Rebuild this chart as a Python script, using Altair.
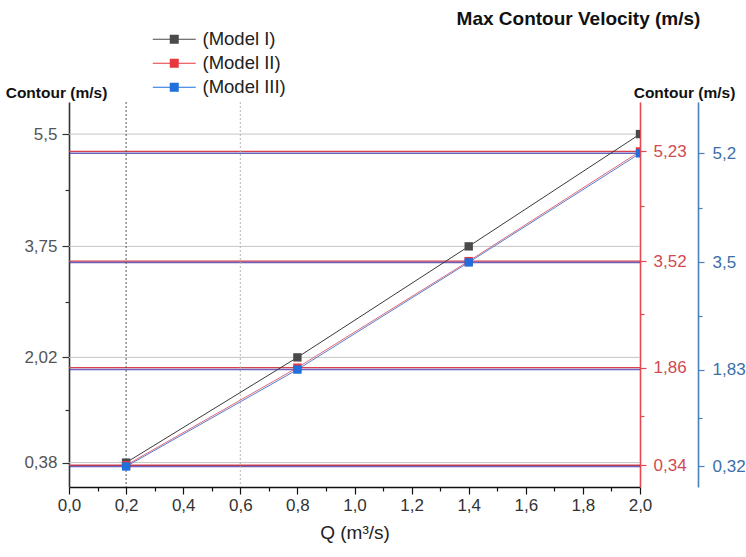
import json
import altair as alt
import pandas as pd

# ---- data -------------------------------------------------------------
Q = [0.2, 0.8, 1.4, 2.0]
model_I = [0.38, 2.02, 3.75, 5.5]
model_II = [0.34, 1.86, 3.52, 5.23]
model_III = [0.32, 1.83, 3.5, 5.2]
models = ["(Model I)", "(Model II)", "(Model III)"]
marker_colors = ["#4a4a4a", "#e8383f", "#1f6fdd"]
line_colors = ["#3a3a3a", "#e06a78", "#5a7fd0"]
rule_colors = ["#c4c4c4", "#d8404a", "#3a2ea8"]
x_ticks = [round(i * 0.1, 1) for i in range(21)]
guide_x = [0.2, 0.6]
guide_colors = ["#555555", "#b5b5b5"]

FONT = "Liberation Sans"


def minors(vals):
    return [round((a + b) / 2, 4) for a, b in zip(vals[:-1], vals[1:])]


rows = []
for name, vals in zip(models, [model_I, model_II, model_III]):
    for q, v in zip(Q, vals):
        rows.append({"model": name, "Q": q, "v": v})
df = pd.DataFrame(rows)

yscale = alt.Scale(domain=[0, 6], nice=False, zero=False)
xscale = alt.Scale(domain=[0, 2], nice=False)

major_x = "round(datum.value*10) % 2 == 0"
xaxis = alt.Axis(
    values=x_ticks,
    labelExpr=f"{major_x} ? replace(format(datum.value, '.1f'), '.', ',') : ''",
    tickSize={"condition": {"test": major_x, "value": 7}, "value": 4},
    domainColor="#111111", domainWidth=1.6, tickColor="#111111", tickWidth=1.2,
    labelColor="#333333", labelFontSize=17, labelPadding=3,
    labelOverlap=False, labelFlush=False, labelBound=False,
    title="Q (m³/s)", titleFontSize=19, titleFontWeight="normal",
    titleColor="#222222", titlePadding=10, grid=False,
)
xenc = alt.X("Q:Q", scale=xscale, axis=xaxis)


def yaxis(vals, orient, dom_color, lab_color, offset=0, title="",
          tx=0, ty=0, tsize=15, tick=7, pad=6):
    test = f"indexof({json.dumps(vals)}, datum.value) >= 0"
    kw = dict(
        orient=orient, offset=offset,
        values=vals + minors(vals),
        labelExpr=f"{test} ? replace(format(datum.value, '~g'), '.', ',') : ''",
        tickSize={"condition": {"test": test, "value": tick}, "value": 4},
        domainColor=dom_color, domainWidth=1.6, tickColor=dom_color, tickWidth=1.2,
        labelColor=lab_color, labelFontSize=17, labelPadding=pad,
        labelOverlap=False, labelBound=False, labelFlush=False, grid=False,
    )
    if title:
        kw.update(title=title, titleAngle=0, titleX=tx, titleY=ty,
                  titleAlign="center", titleBaseline="middle",
                  titleFontSize=tsize, titleFontWeight="bold", titleColor="#111111")
    else:
        kw.update(title=None)
    return alt.Axis(**kw)


ax_left = yaxis(model_I, "left", "#333333", "#555555", title="Contour (m/s)",
                tx=-13, ty=-10, tsize=15.5, tick=7, pad=5)
ax_red = yaxis(model_II, "right", "#e84850", "#d04a52", title="Contour (m/s)",
               tx=44, ty=-10, tsize=15.5, tick=6, pad=7)
ax_blue = yaxis(model_III, "right", "#4a80b8", "#3b6fa8", offset=58,
                title="Max Contour Velocity (m/s)", tx=-120, ty=-84, tsize=19,
                tick=6, pad=8)


def hrules(vals, color, axis, width=1.0, opacity=1.0):
    return alt.Chart(pd.DataFrame({"v": vals})).mark_rule(
        color=color, strokeWidth=width, opacity=opacity
    ).encode(y=alt.Y("v:Q", scale=yscale, axis=axis))


r1 = hrules(model_I, rule_colors[0], ax_left)
r2 = hrules(model_II, rule_colors[1], ax_red, width=1.4)
r3 = hrules(model_III, rule_colors[2], ax_blue, width=1.5, opacity=0.75)

guides = [
    alt.Chart(pd.DataFrame({"Q": [gx]})).mark_rule(
        color=gc, strokeDash=[2, 2], strokeWidth=1
    ).encode(x=xenc)
    for gx, gc in zip(guide_x, guide_colors)
]

# one line layer per model (constant colour)
line_layers = [
    alt.Chart(df).transform_filter(alt.datum.model == m).mark_line(
        strokeWidth=1, color=c
    ).encode(x=xenc, y=alt.Y("v:Q", scale=yscale, axis=None))
    for m, c in zip(models, line_colors)
]

# legend symbol: a line with a filled square in the middle (all filled shapes)
sym = ("M-4.3,-0.1H-0.85V0.1H-4.3Z"
       "M0.85,-0.1H4.3V0.1H0.85Z"
       "M-0.9,-0.9H0.9V0.9H-0.9Z")
leg = alt.Legend(
    title=None, orient="none", legendX=96, legendY=-72,
    symbolType=sym, symbolSize=100, symbolStrokeWidth=0,
    labelFontSize=18.5, labelColor="#222222", labelFont=FONT,
    labelOffset=19, rowPadding=5, padding=0,
)
points = alt.Chart(df).mark_point(
    shape="square", filled=True, size=70, opacity=1, clip=True
).encode(
    x=xenc,
    y=alt.Y("v:Q", scale=yscale, axis=None),
    color=alt.Color("model:N", scale=alt.Scale(domain=models, range=marker_colors), legend=leg),
)

chart = alt.layer(r1, r2, r3, *guides, *line_layers, points).resolve_axis(
    y="independent"
).properties(
    width=571, height=385,
    padding={"left": 69, "top": 102, "right": 106, "bottom": 70},
    autosize=alt.AutoSizeParams(type="none"),
).configure_view(stroke=None).configure_axis(
    labelFont=FONT, titleFont=FONT
).configure_legend(labelFont=FONT)

chart.save("out.html", embed_options={"renderer": "svg", "actions": False})
